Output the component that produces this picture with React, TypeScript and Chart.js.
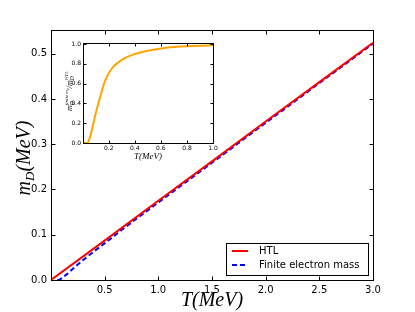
import React, { useEffect, useRef } from "react";
import { Chart, registerables } from "chart.js";
Chart.register(...registerables);

// ---- data ----
const htlT = [0.01, 0.5, 1.0, 1.5, 2.0, 2.5, 3.0];
const htlM = [0.0017, 0.087, 0.175, 0.262, 0.35, 0.437, 0.524];
const finT = [0.06, 0.08, 0.1, 0.15, 0.2, 0.3, 0.4, 0.5, 0.7, 1.0, 1.5, 2.0, 2.5, 3.0];
const finM = [0.0, 0.001, 0.004, 0.013, 0.024, 0.044, 0.063, 0.081, 0.118, 0.171, 0.259, 0.347, 0.435, 0.522];
const mainXTicks = [0.5, 1.0, 1.5, 2.0, 2.5, 3.0];
const mainYTicks = [0.0, 0.1, 0.2, 0.3, 0.4, 0.5];

const insetT = [0.01, 0.03, 0.045, 0.07, 0.1, 0.135, 0.175, 0.225, 0.3, 0.38, 0.49, 0.64, 0.85, 1.0];
const insetR = [0.0, 0.0, 0.017, 0.13, 0.3, 0.47, 0.64, 0.755, 0.84, 0.89, 0.93, 0.963, 0.98, 0.987];
const insetXTicks = [0.2, 0.4, 0.6, 0.8, 1.0];
const insetYTicks = [0.0, 0.2, 0.4, 0.6, 0.8, 1.0];

const legendLabels = ["HTL", "Finite electron mass"];

type Seg = { t: string; size: number; dy?: number; italic?: boolean; back?: boolean };

function drawRich(ctx: CanvasRenderingContext2D, segs: Seg[], x: number, y: number, rot: number) {
  const fam = "'Liberation Serif', 'DejaVu Serif', serif";
  const pos: { x: number; s: Seg }[] = [];
  let cursor = 0;
  let prevStart = 0;
  let end = 0;
  for (const s of segs) {
    ctx.font = `${s.italic === false ? "" : "italic "}${s.size}px ${fam}`;
    const w = ctx.measureText(s.t).width;
    const sx = s.back ? prevStart : cursor;
    pos.push({ x: sx, s });
    prevStart = sx;
    end = Math.max(end, sx + w);
    cursor = end;
  }
  const total = end;
  ctx.save();
  ctx.translate(x, y);
  ctx.rotate(rot);
  ctx.fillStyle = "#000";
  ctx.textBaseline = "alphabetic";
  ctx.textAlign = "left";
  for (const p of pos) {
    ctx.font = `${p.s.italic === false ? "" : "italic "}${p.s.size}px ${fam}`;
    ctx.fillText(p.s.t, p.x - total / 2, p.s.dy || 0);
  }
  ctx.restore();
}

function framePlugin(tickLen: number, xt: number[], yt: number[], extra: (c: any) => void) {
  return {
    id: "frame",
    beforeDatasetsDraw(chart: any) {
      const { ctx, chartArea: a } = chart;
      ctx.save();
      ctx.fillStyle = "#fff";
      ctx.fillRect(a.left, a.top, a.right - a.left, a.bottom - a.top);
      ctx.restore();
    },
    afterDraw(chart: any) {
      const { ctx, chartArea: a, scales } = chart;
      ctx.save();
      ctx.strokeStyle = "#000";
      ctx.lineWidth = 1;
      const L = Math.round(a.left) - 0.5, R = Math.round(a.right) + 0.5;
      const T = Math.round(a.top) - 0.5, B = Math.round(a.bottom) + 0.5;
      ctx.strokeRect(L, T, R - L, B - T);
      ctx.beginPath();
      for (const v of xt) {
        const px = Math.round(scales.x.getPixelForValue(v)) + 0.5;
        ctx.moveTo(px, B); ctx.lineTo(px, B - tickLen);
        ctx.moveTo(px, T); ctx.lineTo(px, T + tickLen);
      }
      for (const v of yt) {
        const py = Math.round(scales.y.getPixelForValue(v)) + 0.5;
        ctx.moveTo(L, py); ctx.lineTo(L + tickLen, py);
        ctx.moveTo(R, py); ctx.lineTo(R - tickLen, py);
      }
      ctx.stroke();
      ctx.restore();
      extra(chart);
    },
  };
}

const sans = "'DejaVu Sans', sans-serif";

export default function App() {
  const mainRef = useRef<HTMLCanvasElement>(null);
  const insetRef = useRef<HTMLCanvasElement>(null);

  useEffect(() => {
    const mainExtra = (chart: any) => {
      const ctx: CanvasRenderingContext2D = chart.ctx;
      drawRich(ctx, [{ t: "m", size: 20 }, { t: "D", size: 13, dy: 4 }, { t: "(MeV)", size: 20 }], 30, 158, -Math.PI / 2);
      drawRich(ctx, [{ t: "T", size: 20 }, { t: "(MeV)", size: 20 }], 212, 306, 0);
      // legend
      ctx.save();
      ctx.fillStyle = "#fff";
      ctx.fillRect(226, 243, 142, 32);
      ctx.strokeStyle = "#000";
      ctx.lineWidth = 1;
      ctx.strokeRect(226.5, 243.5, 142, 32);
      const ds = chart.data.datasets;
      const rows = [251, 265];
      rows.forEach((yy, i) => {
        ctx.beginPath();
        ctx.strokeStyle = ds[i].borderColor;
        ctx.lineWidth = 2;
        ctx.setLineDash(ds[i].borderDash || []);
        ctx.moveTo(232, yy);
        ctx.lineTo(248, yy);
        ctx.stroke();
        ctx.setLineDash([]);
        ctx.fillStyle = "#000";
        ctx.font = `10px ${sans}`;
        ctx.textBaseline = "middle";
        ctx.fillText(legendLabels[i], 259, yy);
      });
      ctx.restore();
    };

    const main = new Chart(mainRef.current!, {
      type: "line",
      data: {
        datasets: [
          {
            label: legendLabels[0],
            data: htlT.map((t, i) => ({ x: t, y: htlM[i] })),
            borderColor: "#ff0000",
            borderWidth: 2,
            pointRadius: 0,
            fill: false,
          },
          {
            label: legendLabels[1],
            data: finT.map((t, i) => ({ x: t, y: finM[i] })),
            borderColor: "#0000ff",
            borderWidth: 2,
            borderDash: [5, 3],
            pointRadius: 0,
            fill: false,
            cubicInterpolationMode: "monotone",
          },
        ],
      },
      options: {
        responsive: false,
        animation: false,
        layout: { padding: { left: 0, top: 31, right: 42, bottom: 0 } },
        plugins: { legend: { display: false }, tooltip: { enabled: false } },
        scales: {
          x: {
            type: "linear",
            min: 0.01,
            max: 3.0,
            grid: { display: false, drawTicks: false },
            border: { display: false },
            afterBuildTicks: (s: any) => { s.ticks = mainXTicks.map((v) => ({ value: v })); },
            afterFit: (s: any) => { s.height = 32; },
            ticks: { color: "#000", font: { family: sans, size: 10 }, padding: 4, maxRotation: 0, callback: (v: any) => Number(v).toFixed(1) },
          },
          y: {
            type: "linear",
            min: 0,
            max: 0.55,
            grid: { display: false, drawTicks: false },
            border: { display: false },
            afterBuildTicks: (s: any) => { s.ticks = mainYTicks.map((v) => ({ value: v })); },
            afterFit: (s: any) => { s.width = 52; },
            ticks: { color: "#000", font: { family: sans, size: 10 }, padding: 5, callback: (v: any) => Number(v).toFixed(1) },
          },
        },
      },
      plugins: [framePlugin(4, mainXTicks, mainYTicks, mainExtra)],
    } as any);

    const insetExtra = (chart: any) => {
      const ctx: CanvasRenderingContext2D = chart.ctx;
      drawRich(
        ctx,
        [
          { t: "m", size: 8 },
          { t: "D", size: 5.5, dy: 2 },
          { t: "finite m", size: 5, dy: -4, back: true },
          { t: "e", size: 4, dy: -3 },
          { t: "/m", size: 8 },
          { t: "D", size: 5.5, dy: 2 },
          { t: "HTL", size: 5, dy: -4, back: true },
        ],
        22,
        61,
        -Math.PI / 2
      );
      drawRich(ctx, [{ t: "T", size: 9 }, { t: "(MeV)", size: 9 }], 98, 129, 0);
    };

    const inset = new Chart(insetRef.current!, {
      type: "line",
      data: {
        datasets: [
          {
            data: insetT.map((t, i) => ({ x: t, y: insetR[i] })),
            borderColor: "#ffa500",
            borderWidth: 2,
            pointRadius: 0,
            fill: false,
            cubicInterpolationMode: "monotone",
          },
        ],
      },
      options: {
        responsive: false,
        animation: false,
        layout: { padding: { left: 0, top: 14, right: 12, bottom: 0 } },
        plugins: { legend: { display: false }, tooltip: { enabled: false } },
        scales: {
          x: {
            type: "linear",
            min: 0.01,
            max: 1.0,
            grid: { display: false, drawTicks: false },
            border: { display: false },
            afterBuildTicks: (s: any) => { s.ticks = insetXTicks.map((v) => ({ value: v })); },
            afterFit: (s: any) => { s.height = 27; },
            ticks: { color: "#000", font: { family: sans, size: 6 }, padding: 2, maxRotation: 0, callback: (v: any) => Number(v).toFixed(1) },
          },
          y: {
            type: "linear",
            min: 0,
            max: 1.0,
            grid: { display: false, drawTicks: false },
            border: { display: false },
            afterBuildTicks: (s: any) => { s.ticks = insetYTicks.map((v) => ({ value: v })); },
            afterFit: (s: any) => { s.width = 34; },
            ticks: { color: "#000", font: { family: sans, size: 6 }, padding: 3, callback: (v: any) => Number(v).toFixed(1) },
          },
        },
      },
      plugins: [framePlugin(3, insetXTicks, insetYTicks, insetExtra)],
    } as any);

    return () => {
      main.destroy();
      inset.destroy();
    };
  }, []);

  return (
    <div style={{ position: "absolute", left: 0, top: 0, width: 415, height: 312, background: "#fff" }}>
      <canvas ref={mainRef} width={415} height={312} style={{ position: "absolute", left: 0, top: 0, width: 415, height: 312 }} />
      <canvas ref={insetRef} width={175} height={140} style={{ position: "absolute", left: 50, top: 30, width: 175, height: 140 }} />
    </div>
  );
}
